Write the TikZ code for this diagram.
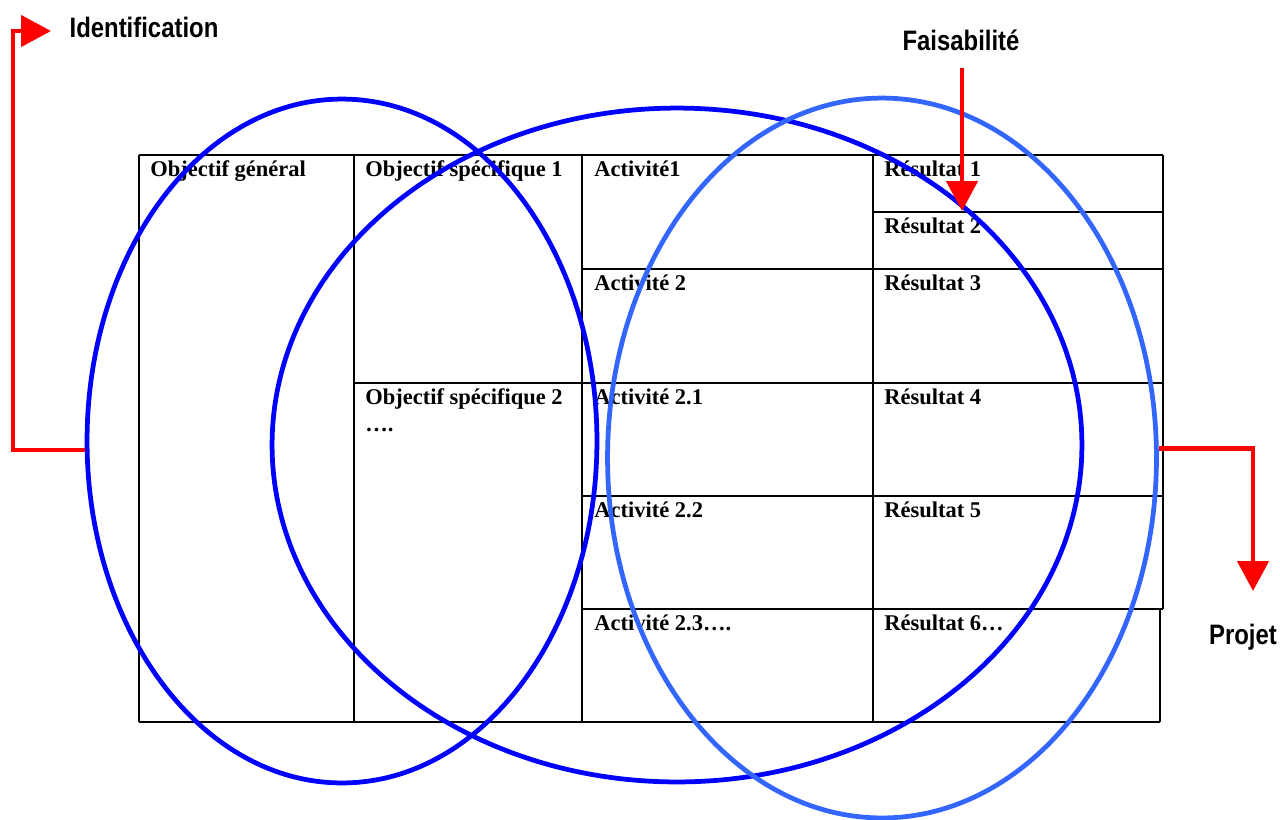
\documentclass[tikz,border=0pt]{standalone}
\usepackage{fontspec}
\setmainfont{Liberation Serif}
\newfontfamily\labelfont[FakeStretch=0.85]{Liberation Sans}
\usetikzlibrary{shapes.geometric,arrows.meta}

\begin{document}
\begin{tikzpicture}
  [x=0.02cm, y=-0.02cm,
   every node/.style={inner sep=0pt},
   cell/.style={anchor=base west, font=\fontsize{12.8}{15}\selectfont\bfseries},
   grid/.style={line width=0.7pt},
   ring/.style={draw, ellipse, line width=0.095cm},
   redline/.style={draw=red, line width=0.09cm, -{Triangle[length=0.6cm, width=0.62cm]}},
   tag/.style={anchor=base, font=\labelfont\fontsize{16}{18}\selectfont\bfseries}]
  \useasboundingbox (0,0) rectangle (1280,819);

  % table
  \draw[grid] (139,155) -- (1163,155);
  \draw[grid] (873,212) -- (1163,212);
  \draw[grid] (582,269) -- (1163,269);
  \draw[grid] (354,383) -- (1163,383);
  \draw[grid] (582,496) -- (1163,496);
  \draw[grid] (582,609) -- (1163,609);
  \draw[grid] (139,722) -- (1160,722);
  \foreach \x in {139,354,582,873}
    \draw[grid] (\x,155) -- (\x,722);
  \draw[grid] (1163,155) -- (1163,609);
  \draw[grid] (1160,609) -- (1160,722);

  \node[cell] (og)  at (150,176) {Objectif général};
  \node[cell] (os1) at (365,176) {Objectif spécifique 1};
  \node[cell, align=left] (os2) at (365,431) {Objectif spécifique 2\\….};
  \node[cell] (a1)  at (594,176) {Activité1};
  \node[cell] (a2)  at (594,290) {Activité 2};
  \node[cell] (a21) at (594,404) {Activité 2.1};
  \node[cell] (a22) at (594,517) {Activité 2.2};
  \node[cell] (a23) at (594,630) {Activité 2.3….};
  \node[cell] (r1)  at (884,176) {Résultat 1};
  \node[cell] (r2)  at (884,233) {Résultat 2};
  \node[cell] (r3)  at (884,290) {Résultat 3};
  \node[cell] (r4)  at (884,404) {Résultat 4};
  \node[cell] (r5)  at (884,517) {Résultat 5};
  \node[cell] (r6)  at (884,630) {Résultat 6…};

  % circles
  \node[ring, draw={rgb,255:red,0;green,0;blue,255}, minimum width=10.2cm, minimum height=13.68cm] (ellL) at (342,441) {};
  \node[ring, draw={rgb,255:red,0;green,0;blue,255}, minimum width=16.2cm, minimum height=13.48cm] (ellM) at (677,445) {};
  \node[ring, draw={rgb,255:red,51;green,102;blue,255}, minimum width=10.98cm, minimum height=14.4cm] (ellR) at (882,458) {};

  % labels and arrows
  \node[tag] (ident) at (144,37) {Identification};
  \node[tag] (fais)  at (961,50) {Faisabilité};
  \node[tag] (proj)  at (1243,644) {Projet};

  \coordinate (idcorner) at (13,31);
  \coordinate (idtip) at (51,31);
  \coordinate (faistop) at (962,68);
  \coordinate (faistip) at (962,211);
  \coordinate (projtip) at (1253,591);

  \draw[redline] (ellL.182) -- (ellL.182 -| idcorner) |- (idtip);
  \draw[redline] (faistop) -- (faistip);
  \draw[redline] (ellR.2) -| (projtip);
\end{tikzpicture}
\end{document}
